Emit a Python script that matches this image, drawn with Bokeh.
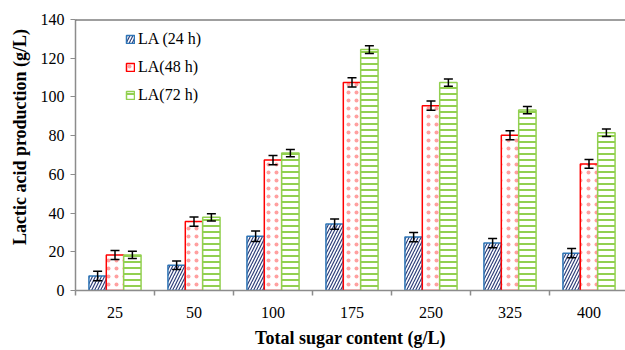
from bokeh.plotting import figure
from bokeh.models import (ColumnDataSource, Range1d, FixedTicker, Whisker, TeeHead,
                          Legend, LegendItem, Span)
from bokeh.embed import file_html
from bokeh.resources import INLINE

# Total sugar content categories (g/L)
sugar = ["25", "50", "100", "175", "250", "325", "400"]

# Lactic acid production (g/L) at each sampling time
la_24h = [7.5, 13.1, 28.0, 34.3, 27.6, 24.5, 19.3]
la_48h = [18.3, 35.6, 67.4, 107.5, 95.5, 80.2, 65.4]
la_72h = [18.4, 37.8, 71.0, 124.5, 107.4, 93.2, 81.5]

# Standard deviations
sd_24h = [2.5, 2.2, 2.7, 2.6, 2.4, 2.4, 2.4]
sd_48h = [2.3, 2.4, 2.4, 2.4, 2.4, 2.3, 2.3]
sd_72h = [1.9, 1.9, 1.9, 2.0, 1.9, 1.9, 1.9]

series_labels = ["LA (24 h)", "LA(48 h)", "LA(72 h)"]

FONT = "Liberation Serif"
BAR_W = 0.22
n = len(sugar)
centers = [i + 0.5 for i in range(n)]

p = figure(width=625, height=350, output_backend="svg", toolbar_location=None,
           x_range=Range1d(0, 550 / 79), y_range=Range1d(0, 140),
           min_border_left=75, min_border_right=0, min_border_top=19,
           min_border_bottom=57, background_fill_color="white",
           border_fill_color="white")
p.outline_line_color = None
p.xgrid.visible = False
p.ygrid.visible = False

styles = [
    dict(line_color="#2E75B6", hatch_pattern="right_diagonal_line",
         hatch_color="#2F3F7A", hatch_scale=6, hatch_weight=1.2),
    dict(line_color="#FF0000", hatch_pattern="dot",
         hatch_color="#FFA0A0", hatch_scale=8, hatch_weight=0.5),
    dict(line_color="#92D050", hatch_pattern="horizontal_line",
         hatch_color="#92D050", hatch_scale=6, hatch_weight=2.0),
]

items = []
for k, (vals, sds, lab) in enumerate(zip([la_24h, la_48h, la_72h],
                                         [sd_24h, sd_48h, sd_72h],
                                         series_labels)):
    off = (k - 1) * BAR_W
    xs = [c + off for c in centers]
    src = ColumnDataSource(dict(x=xs, top=vals,
                                lower=[v - s for v, s in zip(vals, sds)],
                                upper=[v + s for v, s in zip(vals, sds)]))
    r = p.vbar(x="x", top="top", bottom=0, width=BAR_W, source=src,
               fill_color="white", line_width=1.5, **styles[k])
    items.append(LegendItem(label=lab, renderers=[r]))
    w = Whisker(base="x", lower="lower", upper="upper", source=src,
                line_color="black", line_width=1.5, level="overlay",
                upper_head=TeeHead(size=9, line_color="black", line_width=1.5),
                lower_head=TeeHead(size=9, line_color="black", line_width=1.5))
    p.add_layout(w)

# Axes
axis_color = "#8C8C8C"
p.yaxis.ticker = FixedTicker(ticks=list(range(0, 141, 20)))
p.yaxis.axis_line_color = axis_color
p.yaxis.axis_line_width = 1.5
p.yaxis.major_tick_line_color = axis_color
p.yaxis.major_tick_out = 5
p.yaxis.major_tick_in = 0
p.yaxis.minor_tick_line_color = None
p.yaxis.major_label_text_font = FONT
p.yaxis.major_label_text_font_size = "16px"
p.yaxis.major_label_text_color = "black"
p.yaxis.major_label_standoff = 6
# leading no-break spaces lift the title slightly above the frame centre
p.yaxis.axis_label = "\u00a0" * 8 + "Lactic acid production (g/L)"
p.yaxis.axis_label_text_font = FONT
p.yaxis.axis_label_text_font_size = "18px"
p.yaxis.axis_label_text_font_style = "bold"
p.yaxis.axis_label_text_color = "black"
p.yaxis.axis_label_standoff = 8

p.xaxis.ticker = FixedTicker(ticks=centers, minor_ticks=list(range(0, n + 1)))
p.xaxis.major_label_overrides = {c: s for c, s in zip(centers, sugar)}
p.xaxis.axis_line_color = axis_color
p.xaxis.axis_line_width = 1.5
p.xaxis.major_tick_out = 0
p.xaxis.major_tick_in = 0
p.xaxis.minor_tick_out = 5
p.xaxis.minor_tick_in = 0
p.xaxis.minor_tick_line_color = axis_color
p.xaxis.minor_tick_line_width = 1.5
p.xaxis.major_label_text_font = FONT
p.xaxis.major_label_text_font_size = "16px"
p.xaxis.major_label_text_color = "black"
p.xaxis.major_label_standoff = 11
p.xaxis.axis_label = "Total sugar content (g/L)"
p.xaxis.axis_label_text_font = FONT
p.xaxis.axis_label_text_font_size = "18px"
p.xaxis.axis_label_text_font_style = "bold"
p.xaxis.axis_label_text_color = "black"
p.xaxis.axis_label_standoff = 7

# Top border of the plot area
p.add_layout(Span(location=140, dimension="width", line_color="#404040",
                  line_width=2))

legend = Legend(items=items, location=(50, 185), orientation="vertical",
                glyph_width=10, glyph_height=10, label_height=20, spacing=8,
                label_standoff=3, padding=0, margin=0,
                label_text_font=FONT, label_text_font_size="16px",
                label_text_color="black", border_line_color=None,
                background_fill_alpha=0)
p.add_layout(legend)

open("out.html", "w").write(file_html(p, INLINE))
